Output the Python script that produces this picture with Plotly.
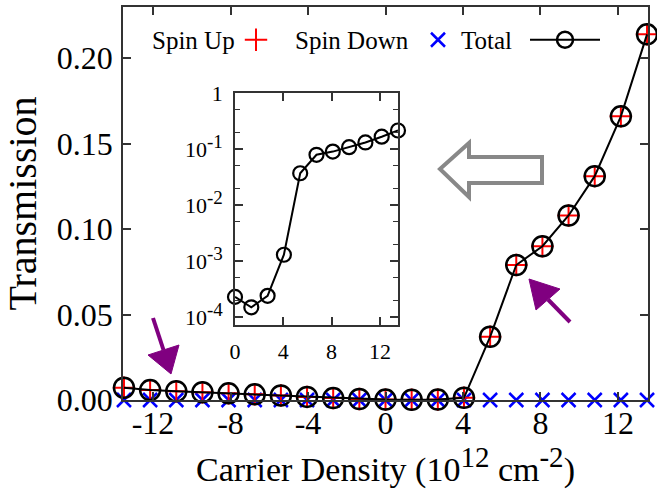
import plotly.graph_objects as go

# ---------------- data ----------------
density = [-13.5, -12.15, -10.8, -9.45, -8.1, -6.75, -5.4, -4.05, -2.7, -1.35,
           0.0, 1.35, 2.7, 4.05, 5.4, 6.75, 8.1, 9.45, 10.8, 12.15, 13.5]
total = [0.0072, 0.0058, 0.0051, 0.0045, 0.0039, 0.0033, 0.0026, 0.0018, 0.0011, 0.0006,
         0.00023, 0.00015, 0.00024, 0.0013, 0.037, 0.079, 0.090, 0.108, 0.131, 0.166, 0.214]
spin_up = [0.0072, 0.0058, 0.0051, 0.0045, 0.0039, 0.0033, 0.0026, 0.0018, 0.0011, 0.0006,
           0.00023, 0.00015, 0.00024, 0.0013, 0.037, 0.079, 0.090, 0.108, 0.131, 0.166, 0.214]
spin_down = [0.0, 0.0, 0.0, 0.0, 0.0, 0.0, 0.0, 0.0, 0.0, 0.0,
             0.0, 0.0, 0.0, 0.0, 0.0, 0.0, 0.0, 0.0, 0.0, 0.0, 0.0]

inset_density = density[10:]
inset_total = total[10:]

main_xticks = [-12, -8, -4, 0, 4, 8, 12]
main_xlabels = ["-12", "-8", "-4", "0", "4", "8", "12"]
main_yticks = [0.0, 0.05, 0.10, 0.15, 0.20]
main_ylabels = ["0.00", "0.05", "0.10", "0.15", "0.20"]
inset_xticks = [0, 4, 8, 12]
inset_xlabels = ["0", "4", "8", "12"]
inset_yticks = [1e-4, 1e-3, 1e-2, 1e-1, 1]
SUP = "<sup><span style='font-size:19px'>{}</span></sup>"
inset_ylabels = ["10" + SUP.format("-4"), "10" + SUP.format("-3"), "10" + SUP.format("-2"),
                 "10" + SUP.format("-1"), "1"]
inset_minor = [m * 10.0 ** e for e in (-5, -4, -3, -2, -1) for m in (2, 5)]

# ---------------- geometry helpers (pixel -> paper) ----------------
W, H = 657, 493
L, R, T, B = 123, 648, 7, 400


def px(x):
    return (x - L) / (R - L)


def py(y):
    return (B - y) / (B - T)


FONT = "Liberation Serif"
AX = "#333333"

fig = go.Figure()

fig.add_trace(go.Scatter(x=density, y=spin_down, mode="markers", name="",
                         legend="legend2", cliponaxis=False,
                         marker=dict(symbol="x-thin", size=14, line=dict(color="#0000ff", width=2.5))))
fig.add_trace(go.Scatter(x=density, y=spin_up, mode="markers", name="",
                         legend="legend", cliponaxis=False,
                         marker=dict(symbol="cross-thin", size=16, line=dict(color="#ff0000", width=2))))
fig.add_trace(go.Scatter(x=density, y=total, mode="lines+markers", name="",
                         legend="legend3", cliponaxis=False,
                         line=dict(color="black", width=2),
                         marker=dict(symbol="circle-open", size=20, color="black",
                                     line=dict(color="black", width=2.5))))

fig.add_trace(go.Scatter(x=inset_density, y=inset_total, mode="lines+markers",
                         xaxis="x2", yaxis="y2", showlegend=False, cliponaxis=False,
                         line=dict(color="black", width=2),
                         marker=dict(symbol="circle-open", size=14, color="black",
                                     line=dict(color="black", width=2.2))))

common = dict(showgrid=False, zeroline=False, showline=True, linecolor=AX, linewidth=1.5,
              mirror="ticks", ticks="inside", tickcolor=AX, tickwidth=1.5)

fig.update_layout(
    width=W, height=H,
    margin=dict(l=L, r=W - R, t=T, b=H - B, autoexpand=False),
    paper_bgcolor="white", plot_bgcolor="white",
    font=dict(family=FONT, color="black"),
    xaxis=dict(domain=[0, 1], range=[-13.55, 13.55], tickvals=main_xticks, ticktext=main_xlabels,
               ticklen=8, tickfont=dict(size=32), ticklabelstandoff=-6,
               title=dict(text="Carrier Density (10<sup><span style='font-size:29px'>12</span></sup> cm"
                               "<sup><span style='font-size:29px'>-2</span></sup>)",
                          font=dict(size=34), standoff=0),
               **common),
    yaxis=dict(domain=[0, 1], range=[0, 0.23], tickvals=main_yticks, ticktext=main_ylabels,
               ticklen=8, tickfont=dict(size=32), ticklabelstandoff=2,
               title=dict(text="Transmission", font=dict(size=40), standoff=8),
               **common),
    xaxis2=dict(domain=[px(235), px(398)], anchor="y2", range=[0, 13.5],
                tickvals=inset_xticks, ticktext=inset_xlabels, ticklen=8,
                tickfont=dict(size=22), ticklabelstandoff=6, **common),
    yaxis2=dict(domain=[py(325), py(93)], anchor="x2", type="log", range=[-4.14, 0],
                tickvals=inset_yticks, ticktext=inset_ylabels, ticklen=8,
                tickfont=dict(size=22), ticklabelstandoff=6,
                minor=dict(tickvals=inset_minor, ticks="inside", ticklen=5,
                           tickcolor=AX, tickwidth=1.2),
                **common),
    legend=dict(x=px(258 - 22), y=py(40), xanchor="left", yanchor="middle",
                orientation="h", bgcolor="rgba(0,0,0,0)", font=dict(size=25), itemwidth=30),
    legend2=dict(x=px(438 - 20), y=py(40), xanchor="left", yanchor="middle",
                 orientation="h", bgcolor="rgba(0,0,0,0)", font=dict(size=25), itemwidth=30),
    legend3=dict(x=px(565 - 40), y=py(40), xanchor="left", yanchor="middle",
                 orientation="h", bgcolor="rgba(0,0,0,0)", font=dict(size=25), itemwidth=70),
)

# legend texts (gnuplot puts the text before the key)
for txt, right in (("Spin Up", 237), ("Spin Down", 411), ("Total", 514)):
    fig.add_annotation(text=txt, x=px(right), y=py(40), xref="paper", yref="paper",
                       xanchor="right", yanchor="middle", showarrow=False,
                       font=dict(size=25, family=FONT, color="black"))

# grey hollow arrow pointing to the inset
pts = [(440, 169), (469, 143), (469, 157), (542, 157), (542, 183), (469, 183), (469, 197)]
path = "M " + " L ".join(f"{px(a):.5f},{py(b):.5f}" for a, b in pts) + " Z"
fig.add_shape(type="path", path=path, xref="paper", yref="paper",
              line=dict(color="#888888", width=4), fillcolor="white", layer="above")

# purple arrows
PURPLE = "#800080"
for tail, base_mid, tip, c1, c2 in (
        ((153, 318), (163.5, 350), (171, 374), (148, 355), (179, 345)),
        ((570, 322), (548, 299.5), (529, 279), (536, 310), (560, 289))):
    fig.add_shape(type="line", xref="paper", yref="paper",
                  x0=px(tail[0]), y0=py(tail[1]), x1=px(base_mid[0]), y1=py(base_mid[1]),
                  line=dict(color=PURPLE, width=4))
    tri = (f"M {px(tip[0]):.5f},{py(tip[1]):.5f} L {px(c1[0]):.5f},{py(c1[1]):.5f} "
           f"L {px(c2[0]):.5f},{py(c2[1]):.5f} Z")
    fig.add_shape(type="path", path=tri, xref="paper", yref="paper",
                  line=dict(color=PURPLE, width=1), fillcolor=PURPLE)

fig.write_html("out.html")
